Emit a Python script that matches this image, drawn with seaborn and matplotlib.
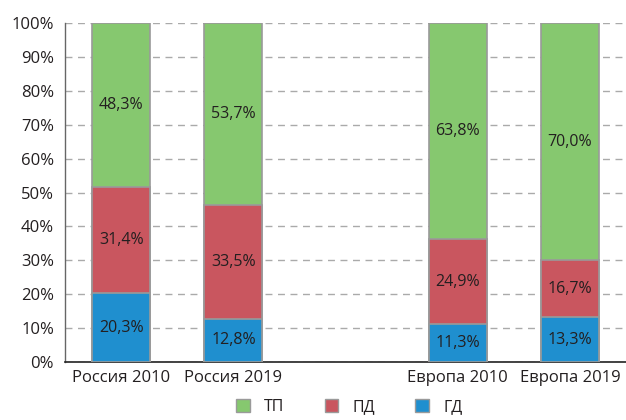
#!/usr/bin/env python3

import pandas as pd
import matplotlib.pyplot as plt
import seaborn as sns
from matplotlib.patches import Patch
from matplotlib.ticker import FuncFormatter, FixedLocator

# Data (shares, %)
categories = ["Россия 2010", "Россия 2019", " ", "Европа 2010", "Европа 2019"]
bar_groups = ["Россия 2010", "Россия 2019", "Европа 2010", "Европа 2019"]
gd = [20.3, 12.8, 11.3, 13.3]   # ГД
pd_ = [31.4, 33.5, 24.9, 16.7]  # ПД
tp = [48.3, 53.7, 63.8, 70.0]   # ТП

series_names = ["ТП", "ПД", "ГД"]
colors = {"ТП": "#86c86f", "ПД": "#c9565f", "ГД": "#1f8fcf"}
text_color = "#231f20"


def main():
    sns.set_style("white")
    plt.rcParams["font.family"] = ["Open Sans", "DejaVu Sans"]

    df = pd.DataFrame({"group": bar_groups, "ГД": gd, "ПД": pd_, "ТП": tp})
    df["top_tp"] = df["ГД"] + df["ПД"] + df["ТП"]
    df["top_pd"] = df["ГД"] + df["ПД"]
    df["top_gd"] = df["ГД"]

    fig = plt.figure(figsize=(6.26, 4.2), dpi=100)
    ax = fig.add_axes([0.104, 0.138, 0.896, 0.807])

    # Stacked bars drawn as overlaid cumulative bars
    for col, name in [("top_tp", "ТП"), ("top_pd", "ПД"), ("top_gd", "ГД")]:
        sns.barplot(
            data=df, x="group", y=col, order=categories, color=colors[name],
            saturation=1, width=0.515, errorbar=None, edgecolor="#9a9a9a",
            linewidth=1.2, ax=ax, zorder=3,
        )

    # Segment labels
    for i, grp in enumerate(categories):
        if grp not in bar_groups:
            continue
        j = bar_groups.index(grp)
        bottom = 0
        for val in [gd[j], pd_[j], tp[j]]:
            ax.text(i, bottom + val / 2, f"{val:.1f}%".replace(".", ","),
                    ha="center", va="center", fontsize=11.5, color=text_color,
                    zorder=5)
            bottom += val

    ax.set_ylim(0, 100)
    ax.set_xlim(-0.5, len(categories) - 0.5)
    ax.yaxis.set_major_locator(FixedLocator(range(0, 101, 10)))
    ax.yaxis.set_major_formatter(FuncFormatter(lambda v, p: f"{v:.0f}%"))
    ax.grid(axis="y", linestyle=(0, (5, 4)), color="#aaaaaa", linewidth=1.0,
            zorder=0)
    ax.set_axisbelow(True)

    ax.set_xlabel("")
    ax.set_ylabel("")
    ax.tick_params(axis="y", length=0, labelsize=12, labelcolor=text_color,
                   pad=8)
    ax.tick_params(axis="x", which="major", length=0, labelsize=12,
                   labelcolor=text_color, pad=6)
    ax.xaxis.set_minor_locator(FixedLocator([0.5, 1.5, 2.5, 3.5]))
    ax.tick_params(axis="x", which="minor", length=4, color="#333333",
                   direction="out")

    for s in ["top", "right"]:
        ax.spines[s].set_visible(False)
    ax.spines["left"].set_color("#666666")
    ax.spines["bottom"].set_color("#222222")
    ax.spines["left"].set_linewidth(1.0)
    ax.spines["bottom"].set_linewidth(1.2)

    handles = [Patch(facecolor=colors[n], edgecolor="#9a9a9a", label=n)
               for n in series_names]
    fig.legend(handles=handles, loc="lower center", bbox_to_anchor=(0.558, -0.022),
               ncol=3, frameon=False, fontsize=11.5, handlelength=0.85,
               handleheight=0.85, columnspacing=2.5, handletextpad=0.9,
               labelcolor=text_color)

    fig.savefig("out.png", dpi=100)
    plt.close(fig)


if __name__ == "__main__":
    main()
